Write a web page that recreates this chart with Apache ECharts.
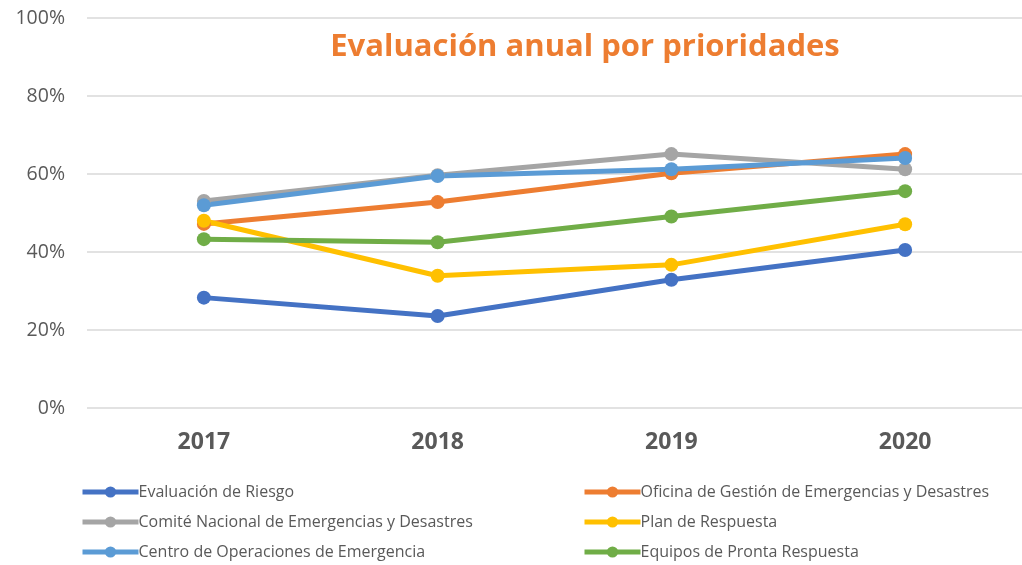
<!DOCTYPE html>
<html>
<head>
<meta charset="utf-8">
<script src="https://cdn.jsdelivr.net/npm/echarts@6/dist/echarts.min.js"></script>
<style>
  html, body { margin: 0; padding: 0; background: #fff; }
  #chart { width: 1022px; height: 565px; }
</style>
</head>
<body>
<div id="chart"></div>
<script>
const years = ['2017', '2018', '2019', '2020'];
const yTicks = [0, 20, 40, 60, 80, 100];

const evaluacionRiesgo = [28.3, 23.6, 32.9, 40.5];
const oficinaGestion = [47.2, 52.8, 60.2, 65.1];
const comiteNacional = [53.1, 59.7, 65.1, 61.2];
const planRespuesta = [48.0, 33.9, 36.7, 47.1];
const centroOperaciones = [52.0, 59.5, 61.2, 64.1];
const equiposPronta = [43.3, 42.5, 49.1, 55.6];

const seriesDefs = [
  { name: 'Evaluación de Riesgo', data: evaluacionRiesgo, color: '#4472C4' },
  { name: 'Oficina de Gestión de Emergencias y Desastres', data: oficinaGestion, color: '#ED7D31' },
  { name: 'Comité Nacional de Emergencias y Desastres', data: comiteNacional, color: '#A5A5A5' },
  { name: 'Plan de Respuesta', data: planRespuesta, color: '#FFC000' },
  { name: 'Centro de Operaciones de Emergencia', data: centroOperaciones, color: '#5B9BD5' },
  { name: 'Equipos de Pronta Respuesta', data: equiposPronta, color: '#70AD47' }
];

const font = '"Open Sans", "Noto Sans", sans-serif';
const legendBase = {
  orient: 'vertical',
  top: 484,
  height: 81,
  padding: 0,
  itemWidth: 56,
  itemHeight: 14,
  itemGap: 14,
  lineStyle: { width: 5 },
  textStyle: { fontFamily: font, fontSize: 16, color: '#595959', padding: [0, 0, 0, -5] }
};

const chart = echarts.init(document.getElementById('chart'));
chart.setOption({
  animation: false,
  title: {
    text: 'Evaluación anual por prioridades',
    left: 580,
    top: 27,
    textAlign: 'center',
    textStyle: { fontFamily: font, fontSize: 31, fontWeight: 'bold', color: '#ED7D31' }
  },
  legend: [
    Object.assign({ left: 80, data: [seriesDefs[0].name, seriesDefs[2].name, seriesDefs[4].name] }, legendBase),
    Object.assign({ left: 582, data: [seriesDefs[1].name, seriesDefs[3].name, seriesDefs[5].name] }, legendBase)
  ],
  grid: { left: 87, top: 18, width: 952, height: 390 },
  xAxis: {
    type: 'category',
    data: years,
    boundaryGap: true,
    axisLine: { show: false },
    axisTick: { show: false },
    axisLabel: { margin: 23, fontFamily: font, fontSize: 23, fontWeight: 'bold', color: '#595959' }
  },
  yAxis: {
    type: 'value',
    min: yTicks[0],
    max: yTicks[yTicks.length - 1],
    interval: yTicks[1] - yTicks[0],
    axisLine: { show: false },
    axisTick: { show: false },
    splitLine: { lineStyle: { color: '#D9D9D9', width: 1.5 } },
    axisLabel: { margin: 22, fontFamily: font, fontSize: 19.5, color: '#595959', formatter: v => v + '%' }
  },
  series: seriesDefs.map(s => ({
    name: s.name,
    type: 'line',
    data: s.data,
    symbol: 'circle',
    symbolSize: 14,
    color: s.color,
    lineStyle: { width: 5, color: s.color },
    itemStyle: { color: s.color }
  }))
});
</script>
</body>
</html>
